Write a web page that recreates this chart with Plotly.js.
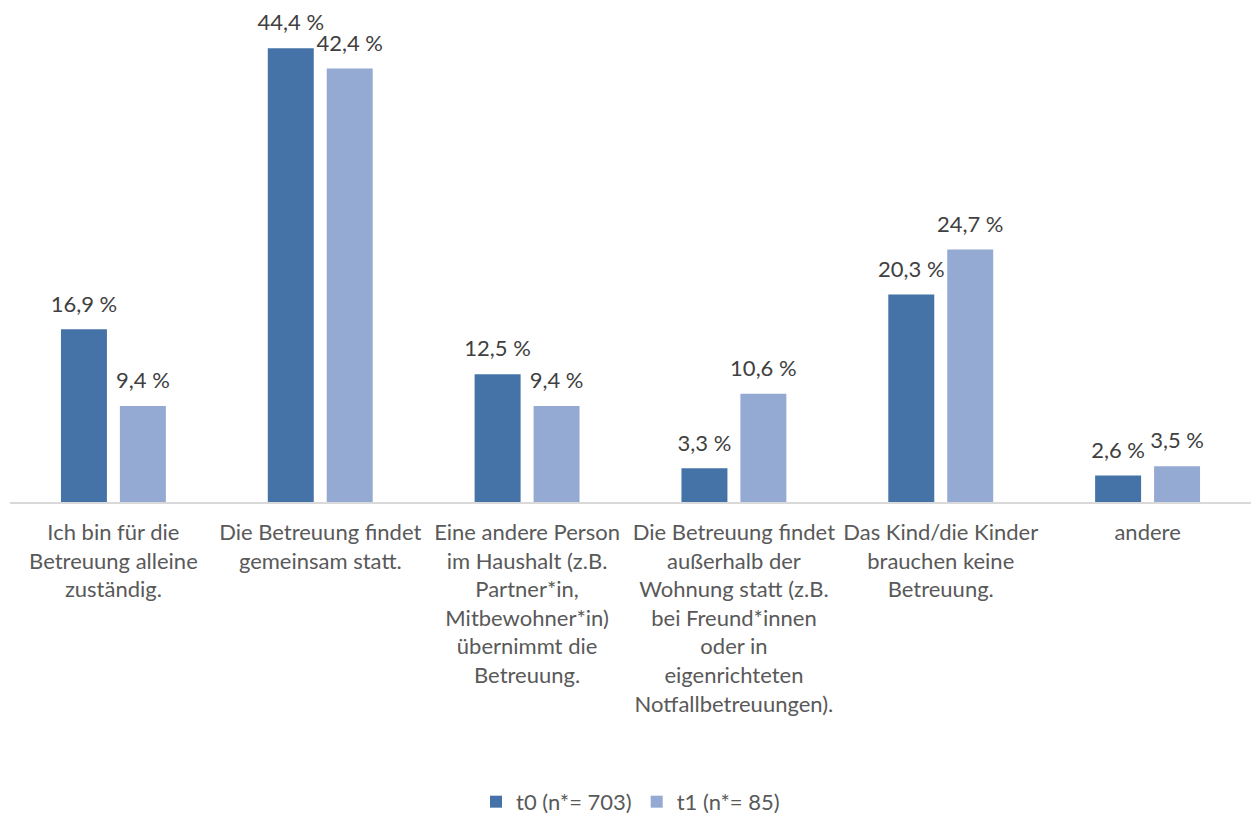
<!DOCTYPE html>
<html>
<head>
<meta charset="utf-8">
<script src="https://cdn.plot.ly/plotly-3.0.1.min.js"></script>
<style>html,body{margin:0;padding:0;background:#fff;}#chart{width:1252px;height:817px;}</style>
</head>
<body>
<div id="chart"></div>
<script>
var categories = [
  "Ich bin für die<br>Betreuung alleine<br>zuständig.",
  "Die Betreuung findet<br>gemeinsam statt.",
  "Eine andere Person<br>im Haushalt (z.B.<br>Partner*in,<br>Mitbewohner*in)<br>übernimmt die<br>Betreuung.",
  "Die Betreuung findet<br>außerhalb der<br>Wohnung statt (z.B.<br>bei Freund*innen<br>oder in<br>eigenrichteten<br>Notfallbetreuungen).",
  "Das Kind/die Kinder<br>brauchen keine<br>Betreuung.",
  "andere"
];
var seriesNames = ["t0 (n*= 703)", "t1 (n*= 85)"];
var t0Values = [16.9, 44.4, 12.5, 3.3, 20.3, 2.6];
var t1Values = [9.4, 42.4, 9.4, 10.6, 24.7, 3.5];

var colors = ["#4573a7", "#95aad3"];
var FONT = "Lato, 'Open Sans', sans-serif";

function fmt(v) { return v.toFixed(1).replace(".", ",") + " %"; }

var allValues = [t0Values, t1Values];
var traces = [];
allValues.forEach(function (vals, i) {
  traces.push({
    type: "bar",
    x: categories,
    y: vals,
    name: seriesNames[i],
    offsetgroup: "g" + i,
    marker: { color: colors[i] },
    hoverinfo: "skip"
  });
});
allValues.forEach(function (vals, i) {
  traces.push({
    type: "scatter",
    mode: "markers+text",
    x: categories,
    y: vals,
    offsetgroup: "g" + i,
    text: vals.map(fmt),
    textposition: "top center",
    textfont: { family: FONT, size: 22, color: "#404040" },
    marker: { size: 18, opacity: 0, color: colors[i] },
    showlegend: false,
    cliponaxis: false,
    hoverinfo: "skip"
  });
});

var layout = {
  width: 1252,
  height: 817,
  margin: { l: 10, r: 1, t: 12, b: 315, autoexpand: false },
  paper_bgcolor: "#ffffff",
  plot_bgcolor: "#ffffff",
  barmode: "group",
  bargap: 0.43,
  bargroupgap: 0.22,
  scattermode: "group",
  scattergap: 0.43,
  font: { family: FONT, size: 22, color: "#595959" },
  xaxis: {
    type: "category",
    showline: true,
    linecolor: "#d9d9d9",
    linewidth: 1.5,
    ticks: "outside",
    ticklen: 10,
    tickcolor: "rgba(0,0,0,0)",
    tickfont: { family: FONT, size: 22, color: "#595959" },
    showgrid: false,
    zeroline: false,
    automargin: false,
    fixedrange: true
  },
  yaxis: {
    range: [0, 47.94],
    visible: false,
    showgrid: false,
    zeroline: false,
    fixedrange: true
  },
  showlegend: true,
  legend: {
    orientation: "h",
    x: 0.5,
    xanchor: "center",
    y: -0.612,
    yanchor: "middle",
    font: { family: FONT, size: 22, color: "#595959" },
    traceorder: "normal"
  }
};

Plotly.newPlot("chart", traces, layout, { displayModeBar: false, staticPlot: true });
</script>
</body>
</html>
